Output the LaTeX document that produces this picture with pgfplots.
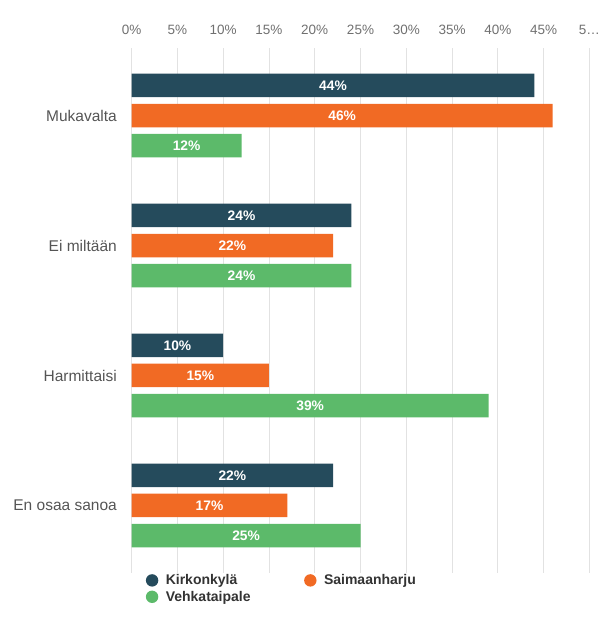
\documentclass[border=0pt]{standalone}
\usepackage{fontspec}
\setmainfont{Liberation Sans}
\usepackage{pgfplots}
\pgfplotsset{compat=1.18}
\definecolor{cK}{RGB}{37,75,92}
\definecolor{cS}{RGB}{241,106,36}
\definecolor{cV}{RGB}{92,186,106}
\definecolor{tickgray}{RGB}{112,112,112}
\definecolor{labgray}{RGB}{85,85,85}
\definecolor{leggray}{RGB}{51,51,51}
\definecolor{gridc}{RGB}{226,226,226}
\begin{document}
\begin{tikzpicture}[x=1bp,y=1bp]
\useasboundingbox (0,0) rectangle (600,623);
\begin{axis}[
  at={(131.7bp,50bp)}, anchor=south west,
  scale only axis, width=457.6bp, height=525bp,
  xmin=0, xmax=50, ymin=-0.52, ymax=3.52, y dir=reverse,
  xtick={0,5,10,15,20,25,30,35,40,45,50},
  xticklabels={0\%,5\%,10\%,15\%,20\%,25\%,30\%,35\%,40\%,45\%,5…},
  xticklabel pos=upper,
  xticklabel style={anchor=base, yshift=13bp, font=\fontsize{13.5bp}{16bp}\selectfont, text=tickgray},
  ytick={0,1,2,3},
  yticklabels={Mukavalta,Ei miltään,Harmittaisi,En osaa sanoa},
  yticklabel style={anchor=east, inner sep=0pt, xshift=-14.7bp, font=\fontsize{15.5bp}{18bp}\selectfont, text=labgray},
  xmajorgrids, grid style={gridc, line width=0.8bp},
  axis line style={draw=none}, major tick style={draw=none},
  bar width=0.181,
  point meta=x,
  nodes near coords={\pgfmathprintnumber[assume math mode=true]{\pgfplotspointmeta}\%},
  visualization depends on=rawx \as \rawx,
  every node near coord/.append style={anchor=center, shift={(axis direction cs:-\rawx/2,0)}, font=\fontsize{13.8bp}{16bp}\selectfont\bfseries, text=white},
  legend columns=2,
  legend cell align=left,
  legend style={at={(axis description cs:0,0)}, anchor=north west, xshift=14bp, yshift=-1bp,
    draw=none, fill=none, inner sep=0pt,
    font=\fontsize{14bp}{16bp}\selectfont\bfseries, text=leggray,
    nodes={inner sep=0pt},
    row sep=4bp,
    /tikz/every odd column/.append style={column sep=7.5bp},
    /tikz/every even column/.append style={column sep=53.5bp}},
]
\addplot[xbar, bar shift=-0.232, fill=cK, draw=none,
  every node near coord/.append style={shift={(axis direction cs:0,-0.232)}},
  legend image code/.code={\fill[cK] (0bp,0bp) circle (6.2bp);}]
  coordinates {(44,0) (24,1) (10,2) (22,3)};
\addlegendentry{Kirkonkylä}
\addplot[xbar, bar shift=0, fill=cS, draw=none,
  legend image code/.code={\fill[cS] (0bp,0bp) circle (6.2bp);}]
  coordinates {(46,0) (22,1) (15,2) (17,3)};
\addlegendentry{Saimaanharju}
\addplot[xbar, bar shift=0.232, fill=cV, draw=none,
  every node near coord/.append style={shift={(axis direction cs:0,0.232)}},
  legend image code/.code={\fill[cV] (0bp,0bp) circle (6.2bp);}]
  coordinates {(12,0) (24,1) (39,2) (25,3)};
\addlegendentry{Vehkataipale}
\end{axis}
\end{tikzpicture}
\end{document}
